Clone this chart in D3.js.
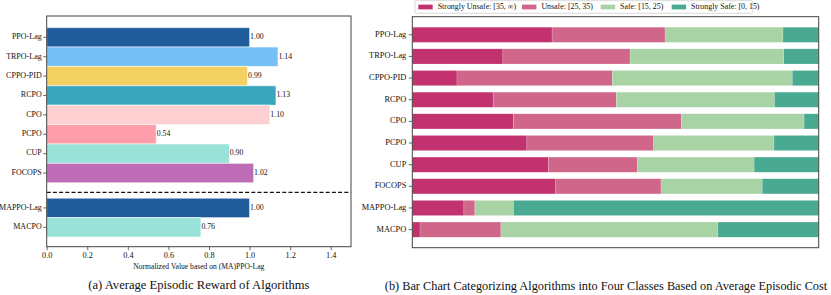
<!DOCTYPE html>
<html>
<head>
<meta charset="utf-8">
<script src="https://cdn.jsdelivr.net/npm/d3@7"></script>
<style>
  html, body { margin: 0; padding: 0; background: #fff; }
  svg text { font-family: "Liberation Serif", "Times New Roman", serif; fill: #111; }
</style>
</head>
<body>
<div id="chart"></div>
<script>
// ===== DATA =====
const algos = ["PPO-Lag","TRPO-Lag","CPPO-PID","RCPO","CPO","PCPO","CUP","FOCOPS","MAPPO-Lag","MACPO"];
const reward = [1.00, 1.14, 0.99, 1.13, 1.10, 0.54, 0.90, 1.02, 1.00, 0.76];
const rewardColors = ["#1f5c99","#74c0f4","#f3d062","#3aa6bb","#ffd0d1","#ff9eaa","#98e2d7","#be6cb5","#1f5c99","#98e2d7"];
const xTicksA = [0, 0.2, 0.4, 0.6, 0.8, 1.0, 1.2, 1.4];

const classes = ["Strongly Unsafe: [35, \u221e)","Unsafe: [25, 35)","Safe: [15, 25)","Strongly Safe: [0, 15)"];
const classColors = ["#c1326f","#d06689","#a7d3a5","#4aa991"];
// percent of runs in each cost class, per algorithm
const stronglyUnsafe = [34.4, 22.3, 11.0, 19.9, 24.9, 28.2, 33.5, 35.3, 12.7, 1.9];
const unsafe         = [27.8, 31.3, 38.2, 30.3, 41.3, 31.2, 21.9, 25.9, 2.7, 19.9];
const safe           = [29.0, 37.8, 44.3, 38.9, 30.2, 29.6, 28.7, 24.9, 9.5, 53.4];
const stronglySafe   = [8.8, 8.6, 6.5, 10.9, 3.6, 11.0, 15.9, 13.9, 75.1, 24.8];

const captionA = "(a) Average Episodic Reward of Algorithms";
const captionB = "(b) Bar Chart Categorizing Algorithms into Four Classes Based on Average Episodic Cost";

// ===== SIZE =====
const width = 831, height = 295;
const svg = d3.select("#chart").append("svg")
  .attr("width", width).attr("height", height);

// ===== PANEL A =====
const A = { left: 46.7, right: 351, top: 16, bottom: 246.7 };
const singleCount = 8;          // single-agent algorithms, then a gap
const groupGap = 0.8;

const slot = i => i < singleCount ? i : i + groupGap;

const xA = d3.scaleLinear().domain([0, 1.5]).range([A.left, A.right]);
const yA = d3.scaleLinear().domain([-1.1, 10.8]).range([A.top, A.bottom]);
const unitA = yA(1) - yA(0);

const gA = svg.append("g");

gA.selectAll("rect.bar")
  .data(algos)
  .join("rect")
  .attr("class", "bar")
  .attr("x", xA(0))
  .attr("y", (d, i) => yA(slot(i)) - unitA / 2)
  .attr("width", (d, i) => xA(reward[i]) - xA(0))
  .attr("height", unitA)
  .attr("fill", (d, i) => rewardColors[i])
  .attr("stroke", "rgba(255,255,255,0.55)")
  .attr("stroke-width", 1);

gA.selectAll("text.val")
  .data(algos)
  .join("text")
  .attr("class", "val")
  .attr("x", (d, i) => xA(reward[i]) + 0.5)
  .attr("y", (d, i) => yA(slot(i)))
  .attr("dominant-baseline", "middle")
  .style("font-size", "7.8px")
  .text((d, i) => reward[i].toFixed(2));

// dashed separator
gA.append("line")
  .attr("x1", A.left).attr("x2", A.right)
  .attr("y1", yA(singleCount)).attr("y2", yA(singleCount))
  .attr("stroke", "#111").attr("stroke-width", 1.3)
  .attr("stroke-dasharray", "4,2.2");

// frame
gA.append("rect")
  .attr("x", A.left).attr("y", A.top)
  .attr("width", A.right - A.left).attr("height", A.bottom - A.top)
  .attr("fill", "none").attr("stroke", "#444").attr("stroke-width", 1);

// y ticks
const yTickA = gA.selectAll("g.ytick").data(algos).join("g")
  .attr("class", "ytick")
  .attr("transform", (d, i) => `translate(${A.left},${yA(slot(i))})`);
yTickA.append("line").attr("x1", -3.5).attr("x2", 0).attr("stroke", "#444").attr("stroke-width", 0.8);
yTickA.append("text")
  .attr("x", -5).attr("text-anchor", "end").attr("dominant-baseline", "middle")
  .style("font-size", "8px").text(d => d);

// x axis
const xAxisA = gA.append("g")
  .attr("transform", `translate(0,${A.bottom})`)
  .call(d3.axisBottom(xA).tickValues(xTicksA).tickFormat(d3.format(".1f")).tickSize(3.5).tickPadding(2));
xAxisA.select(".domain").remove();
xAxisA.selectAll("line").attr("stroke", "#444").attr("stroke-width", 0.8);
xAxisA.selectAll("text").style("font-size", "8.3px").style("font-family", "Liberation Serif, serif").attr("fill", "#111");

gA.append("text")
  .attr("x", (A.left + A.right) / 2).attr("y", 268.5)
  .attr("text-anchor", "middle")
  .style("font-size", "7.6px")
  .text("Normalized Value based on (MA)PPO-Lag");

svg.append("text")
  .attr("x", (A.left + A.right) / 2).attr("y", 289.3)
  .attr("text-anchor", "middle")
  .style("font-size", "12.6px")
  .text(captionA);

// ===== PANEL B =====
const B = { left: 412.3, right: 818.7, top: 16.7, bottom: 247.7 };

const xB = d3.scaleLinear().domain([0, 100]).range([B.left, B.right]);
const yB = d3.scaleLinear().domain([-0.835, 9.835]).range([B.top, B.bottom]);
const barH = (yB(1) - yB(0)) * 0.7;

const rows = algos.map((name, i) => ({
  name,
  c0: stronglyUnsafe[i], c1: unsafe[i], c2: safe[i], c3: stronglySafe[i]
}));
const stack = d3.stack().keys(["c0","c1","c2","c3"]);
const series = stack(rows);

const gB = svg.append("g");

gB.selectAll("g.series")
  .data(series)
  .join("g")
  .attr("class", "series")
  .attr("fill", (d, k) => classColors[k])
  .selectAll("rect")
  .data(d => d)
  .join("rect")
  .attr("x", d => xB(d[0]))
  .attr("y", (d, i) => yB(i) - barH / 2)
  .attr("width", d => xB(d[1]) - xB(d[0]))
  .attr("height", barH)
  .attr("stroke", "rgba(255,255,255,0.35)")
  .attr("stroke-width", 0.5);

gB.append("rect")
  .attr("x", B.left).attr("y", B.top)
  .attr("width", B.right - B.left).attr("height", B.bottom - B.top)
  .attr("fill", "none").attr("stroke", "#444").attr("stroke-width", 1);

const yTickB = gB.selectAll("g.ytick").data(algos).join("g")
  .attr("class", "ytick")
  .attr("transform", (d, i) => `translate(${B.left},${yB(i)})`);
yTickB.append("line").attr("x1", -3.5).attr("x2", 0).attr("stroke", "#444").attr("stroke-width", 0.8);
yTickB.append("text")
  .attr("x", -6).attr("text-anchor", "end").attr("dominant-baseline", "middle")
  .style("font-size", "8.4px").text(d => d);

// legend
const leg = svg.append("g");
leg.append("rect")
  .attr("x", 415).attr("y", 0.7).attr("width", 337.7).attr("height", 12.6)
  .attr("rx", 1.5).attr("fill", "#fff").attr("stroke", "#cfcfcf").attr("stroke-width", 0.8);
const legX = [418.3, 522, 600.7, 671.7];
const legItem = leg.selectAll("g.item").data(classes).join("g")
  .attr("class", "item")
  .attr("transform", (d, i) => `translate(${legX[i]},7)`);
legItem.append("rect")
  .attr("x", 0).attr("y", -2.4).attr("width", 14.4).attr("height", 4.8)
  .attr("fill", (d, i) => classColors[i]);
legItem.append("text")
  .attr("x", 19.4).attr("dominant-baseline", "middle")
  .style("font-size", "7.9px").text(d => d);

svg.append("text")
  .attr("x", 606).attr("y", 289.5)
  .attr("text-anchor", "middle")
  .style("font-size", "12.3px")
  .text(captionB);
</script>
</body>
</html>
